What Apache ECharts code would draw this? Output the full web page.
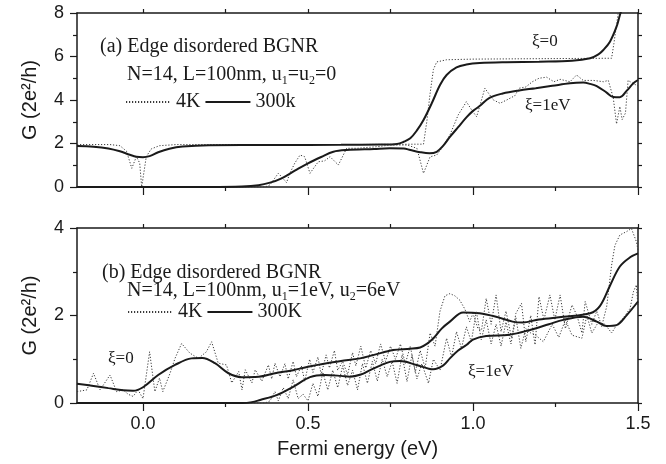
<!DOCTYPE html>
<html>
<head>
<meta charset="utf-8">
<script src="https://cdn.jsdelivr.net/npm/echarts@6/dist/echarts.min.js"></script>
<style>
  html, body { margin: 0; padding: 0; background: #fff; }
  #chart { width: 666px; height: 464px; }
</style>
</head>
<body>
<div id="chart"></div>
<script>
// x axis tick values (eV)
var xMajorTicks = [0, 0.5, 1.0, 1.5];
var xMinorTicks = [0.25, 0.75, 1.25];
var xAllTicks = [0, 0.25, 0.5, 0.75, 1.0, 1.25, 1.5];

// (a) xi = 0, 4K (dotted)
var aXi0ColdE = [-0.2, -0.1, -0.07, -0.05, -0.034, -0.02, -0.01, -0.004, 0.01, 0.025, 0.05, 0.1, 0.3, 0.6, 0.85, 0.86, 0.87, 0.88, 0.89, 0.92, 1.0, 1.2, 1.42, 1.427, 1.44, 1.45];
var aXi0ColdG = [1.95, 1.95, 1.9, 1.65, 0.86, 1.4, 1.1, 0.0, 1.4, 1.75, 1.9, 1.95, 1.95, 1.95, 1.97, 3.0, 4.3, 5.4, 5.75, 5.85, 5.88, 5.9, 5.92, 6.6, 8.0, 8.6];

// (a) xi = 0, 300K (solid)
var aXi0WarmE = [-0.2, -0.15, -0.105, -0.07, -0.04, -0.02, 0.0, 0.02, 0.046, 0.08, 0.12, 0.2, 0.4, 0.6, 0.72, 0.77, 0.79, 0.81, 0.83, 0.85, 0.875, 0.9, 0.92, 0.95, 0.98, 1.02, 1.1, 1.2, 1.3, 1.355, 1.38, 1.395, 1.415, 1.435, 1.445, 1.46];
var aXi0WarmG = [1.88, 1.85, 1.77, 1.64, 1.48, 1.39, 1.37, 1.42, 1.6, 1.76, 1.86, 1.92, 1.93, 1.94, 1.95, 1.98, 2.08, 2.24, 2.6, 3.08, 3.85, 4.69, 5.15, 5.5, 5.63, 5.7, 5.74, 5.76, 5.8, 5.92, 6.1, 6.3, 6.68, 7.37, 7.9, 8.6];

// (a) xi = 1 eV, 4K (dotted)
var aXi1ColdE = [-0.2, 0.37, 0.385, 0.41, 0.42, 0.435, 0.445, 0.46, 0.476, 0.49, 0.506, 0.531, 0.55, 0.567, 0.592, 0.617, 0.65, 0.68, 0.708, 0.748, 0.8, 0.83, 0.85, 0.87, 0.89, 0.905, 0.93, 0.955, 0.98, 0.996, 1.011, 1.036, 1.062, 1.082, 1.102, 1.127, 1.14, 1.16, 1.18, 1.2, 1.223, 1.245, 1.264, 1.294, 1.314, 1.334, 1.365, 1.395, 1.41, 1.425, 1.435, 1.445, 1.452, 1.462, 1.47, 1.486, 1.5];
var aXi1ColdG = [0, 0, 0.1, 0.63, 0.47, 0.2, 0.63, 1.1, 1.47, 1.39, 0.63, 1.16, 1.2, 1.39, 1.01, 1.78, 1.78, 1.82, 1.85, 1.93, 1.93, 1.78, 0.63, 1.39, 1.47, 1.78, 2.39, 3.31, 3.92, 3.54, 3.23, 4.54, 4.0, 3.85, 4.0, 4.2, 4.54, 4.6, 4.84, 5.0, 5.05, 4.84, 4.95, 4.84, 5.15, 4.9, 4.9, 4.84, 4.9, 4.1, 2.9, 3.7, 3.1, 3.4, 4.9, 4.75, 4.65];

// (a) xi = 1 eV, 300K (solid)
var aXi1WarmE = [-0.2, 0.2, 0.3, 0.35, 0.385, 0.42, 0.46, 0.5, 0.54, 0.577, 0.617, 0.7, 0.748, 0.79, 0.81, 0.84, 0.868, 0.89, 0.91, 0.93, 0.955, 0.98, 1.0, 1.02, 1.05, 1.09, 1.14, 1.19, 1.24, 1.294, 1.334, 1.355, 1.375, 1.405, 1.425, 1.445, 1.466, 1.486, 1.5];
var aXi1WarmG = [0, 0, 0.02, 0.08, 0.2, 0.4, 0.75, 1.09, 1.38, 1.62, 1.7, 1.75, 1.78, 1.77, 1.7, 1.6, 1.55, 1.62, 1.9, 2.3, 2.75, 3.2, 3.5, 3.72, 4.1, 4.3, 4.44, 4.54, 4.65, 4.77, 4.8, 4.74, 4.64, 4.34, 4.14, 4.13, 4.43, 4.77, 4.92];

// (b) xi = 0, 4K (dotted)
var bXi0ColdE = [-0.2, -0.17, -0.15, -0.13, -0.1, -0.08, -0.06, -0.045, -0.03, -0.015, 0.0, 0.02, 0.036, 0.05, 0.06, 0.082, 0.097, 0.117, 0.142, 0.168, 0.192, 0.208, 0.228, 0.253, 0.269, 0.29, 0.3, 0.31, 0.33, 0.34, 0.36, 0.38, 0.39, 0.4, 0.415, 0.43, 0.44, 0.455, 0.465, 0.48, 0.49, 0.505, 0.515, 0.53, 0.54, 0.555, 0.565, 0.58, 0.59, 0.605, 0.62, 0.635, 0.645, 0.66, 0.675, 0.69, 0.705, 0.72, 0.735, 0.75, 0.765, 0.78, 0.795, 0.81, 0.825, 0.84, 0.855, 0.87, 0.885, 0.9, 0.915, 0.93, 0.945, 0.96, 0.975, 0.99, 1.0, 1.015, 1.026, 1.04, 1.055, 1.07, 1.085, 1.1, 1.117, 1.13, 1.147, 1.16, 1.175, 1.188, 1.2, 1.215, 1.233, 1.248, 1.264, 1.28, 1.3, 1.315, 1.33, 1.34, 1.36, 1.375, 1.39, 1.405, 1.42, 1.43, 1.445, 1.466, 1.48, 1.495, 1.5];
var bXi0ColdG = [0.26, 0.3, 0.68, 0.3, 0.64, 0.26, 0.3, 0.2, 0.15, 0.3, 0.1, 1.17, 0.26, 0.57, 0.26, 0.68, 1.02, 1.36, 1.14, 1.02, 1.17, 1.4, 0.91, 0.87, 0.46, 0.72, 0.3, 0.76, 0.46, 0.76, 0.5, 0.87, 0.55, 0.91, 0.6, 0.9, 0.55, 0.95, 0.6, 0.85, 0.5, 1.0, 0.7, 1.05, 0.65, 1.1, 0.8, 1.2, 0.75, 0.95, 0.65, 1.15, 0.85, 1.3, 0.8, 1.2, 0.9, 1.35, 0.95, 1.3, 1.0, 1.35, 0.9, 1.3, 0.7, 1.2, 0.8, 1.6, 1.3, 2.1, 2.45, 2.5, 2.45, 2.35, 2.15, 1.86, 2.05, 1.7, 1.67, 2.39, 1.8, 2.47, 1.63, 2.1, 1.48, 2.05, 2.28, 1.4, 2.0, 1.33, 2.43, 1.9, 2.47, 1.9, 2.47, 1.7, 2.24, 2.0, 1.6, 2.32, 1.8, 2.1, 1.75, 2.2, 3.15, 3.6, 3.84, 3.92, 3.99, 3.69, 3.5];

// (b) xi = 0, 300K (solid)
var bXi0WarmE = [-0.2, -0.15, -0.105, -0.06, -0.03, 0.0, 0.046, 0.097, 0.147, 0.18, 0.218, 0.259, 0.299, 0.35, 0.4, 0.455, 0.5, 0.557, 0.6, 0.658, 0.7, 0.758, 0.809, 0.84, 0.86, 0.88, 0.905, 0.93, 0.97, 1.02, 1.07, 1.12, 1.15, 1.2, 1.274, 1.355, 1.385, 1.415, 1.445, 1.476, 1.5];
var bXi0WarmG = [0.44, 0.39, 0.34, 0.29, 0.28, 0.36, 0.64, 0.87, 1.02, 1.03, 0.91, 0.68, 0.59, 0.6, 0.68, 0.75, 0.83, 0.91, 0.96, 1.02, 1.1, 1.21, 1.24, 1.27, 1.35, 1.48, 1.7, 1.86, 2.07, 2.05, 1.97, 1.86, 1.84, 1.91, 1.97, 2.05, 2.22, 2.68, 3.12, 3.33, 3.42];

// (b) xi = 1 eV, 4K (dotted)
var bXi1ColdE = [-0.2, 0.37, 0.385, 0.4, 0.41, 0.425, 0.44, 0.455, 0.47, 0.485, 0.5, 0.515, 0.53, 0.545, 0.56, 0.575, 0.59, 0.605, 0.62, 0.635, 0.65, 0.665, 0.68, 0.695, 0.71, 0.725, 0.74, 0.755, 0.77, 0.785, 0.8, 0.815, 0.83, 0.845, 0.865, 0.88, 0.9, 0.92, 0.935, 0.95, 0.965, 0.98, 0.995, 1.01, 1.025, 1.04, 1.055, 1.07, 1.085, 1.1, 1.115, 1.13, 1.145, 1.16, 1.175, 1.19, 1.213, 1.24, 1.26, 1.28, 1.3, 1.33, 1.345, 1.36, 1.38, 1.4, 1.42, 1.435, 1.455, 1.476, 1.486, 1.495, 1.5];
var bXi1ColdG = [0, 0, 0.05, 0.26, 0.05, 0.35, 0.1, 0.53, 0.1, 0.2, 0.05, 0.45, 0.15, 0.7, 0.3, 0.75, 0.35, 0.85, 0.4, 0.75, 0.3, 0.9, 0.45, 0.95, 0.5, 1.0, 0.6, 0.95, 0.45, 1.1, 0.49, 1.1, 0.55, 0.9, 0.45, 1.0, 0.75, 1.48, 1.05, 1.63, 1.25, 1.74, 1.4, 2.1, 1.45, 1.9, 1.35, 1.8, 1.3, 1.85, 1.35, 1.95, 1.25, 1.7, 1.6, 1.55, 1.4, 1.8, 1.5, 1.9, 1.55, 1.48, 2.0, 1.6, 1.85, 1.8, 1.6, 1.78, 1.94, 2.16, 2.54, 2.7, 2.2];

// (b) xi = 1 eV, 300K (solid)
var bXi1WarmE = [-0.2, 0.3, 0.33, 0.355, 0.405, 0.455, 0.506, 0.55, 0.6, 0.627, 0.66, 0.688, 0.72, 0.748, 0.779, 0.829, 0.88, 0.91, 0.93, 0.955, 0.981, 1.0, 1.04, 1.11, 1.173, 1.23, 1.274, 1.334, 1.375, 1.405, 1.435, 1.466, 1.5];
var bXi1WarmG = [0, 0, 0.02, 0.07, 0.18, 0.37, 0.59, 0.64, 0.62, 0.6, 0.65, 0.75, 0.86, 0.94, 0.96, 0.87, 0.77, 0.86, 1.02, 1.2, 1.33, 1.45, 1.53, 1.56, 1.67, 1.8, 1.9, 1.97, 1.86, 1.76, 1.78, 2.01, 2.32];

function pairs(xs, ys) {
    return xs.map(function(x, i) { return [x, ys[i]]; });
}

var chart = echarts.init(document.getElementById('chart'), null, { renderer: 'canvas' });

var sans = 'Liberation Sans';
var serif = 'Liberation Serif';
var ink = '#1a1a1a';
var dotColor = '#3a3a3a';

var grids = [
    { left: 77, top: 13, width: 561, height: 174 },
    { left: 77, top: 228, width: 561, height: 175 }
];

function xAxes(gridIndex, withLabels) {
    return [
        {
            type: 'value', gridIndex: gridIndex, min: -0.2, max: 1.5, position: 'bottom',
            axisLine: { show: true, onZero: false, lineStyle: { color: ink, width: 1.5 } },
            axisTick: { show: true, inside: false, length: 8, customValues: xMajorTicks, lineStyle: { color: ink, width: 1.2 } },
            axisLabel: {
                show: withLabels, customValues: xMajorTicks, margin: 12,
                fontFamily: sans, fontSize: 18, color: ink,
                formatter: function(v) { return v.toFixed(1); }
            },
            splitLine: { show: false },
            name: withLabels ? 'Fermi energy (eV)' : '',
            nameLocation: 'middle', nameGap: 36,
            nameTextStyle: { fontFamily: sans, fontSize: 20, color: ink }
        },
        {
            type: 'value', gridIndex: gridIndex, min: -0.2, max: 1.5, position: 'bottom',
            axisLine: { show: false, onZero: false },
            axisTick: { show: true, length: 4, customValues: xMinorTicks, lineStyle: { color: ink, width: 1.2 } },
            axisLabel: { show: false },
            splitLine: { show: false }
        },
        {
            type: 'value', gridIndex: gridIndex, min: -0.2, max: 1.5, position: 'top',
            axisLine: { show: true, onZero: false, lineStyle: { color: ink, width: 1.5 } },
            axisTick: { show: true, length: 4, customValues: xAllTicks, lineStyle: { color: ink, width: 1.2 } },
            axisLabel: { show: false },
            splitLine: { show: false }
        }
    ];
}

function yAxes(gridIndex, maxVal) {
    return [
        {
            type: 'value', gridIndex: gridIndex, min: 0, max: maxVal, interval: 2, position: 'left',
            axisLine: { show: true, onZero: false, lineStyle: { color: ink, width: 1.5 } },
            axisTick: { show: true, length: 7, lineStyle: { color: ink, width: 1.2 } },
            minorTick: { show: true, splitNumber: 2, length: 4, lineStyle: { color: ink, width: 1.2 } },
            axisLabel: { margin: 13, fontFamily: sans, fontSize: 18, color: ink },
            splitLine: { show: false },
            name: 'G (2e²/h)', nameLocation: 'middle', nameGap: 37,
            nameTextStyle: { fontFamily: sans, fontSize: 20, color: ink }
        },
        {
            type: 'value', gridIndex: gridIndex, min: 0, max: maxVal, interval: 1, position: 'right',
            axisLine: { show: true, onZero: false, lineStyle: { color: ink, width: 1.5 } },
            axisTick: { show: true, length: 4, lineStyle: { color: ink, width: 1.2 } },
            axisLabel: { show: false },
            splitLine: { show: false }
        }
    ];
}

function dotted(name, xi, yi, xs, ys) {
    return {
        name: name, type: 'line', xAxisIndex: xi, yAxisIndex: yi,
        data: pairs(xs, ys), showSymbol: false, symbol: 'none',
        lineStyle: { color: dotColor, width: 1, type: [1.2, 1.8] },
        itemStyle: { color: dotColor }
    };
}

function solid(name, xi, yi, xs, ys) {
    return {
        name: name, type: 'line', xAxisIndex: xi, yAxisIndex: yi,
        data: pairs(xs, ys), showSymbol: false, symbol: 'none', smooth: 0.35,
        lineStyle: { color: ink, width: 2 },
        itemStyle: { color: ink }
    };
}

var subRich = {
    s: { fontFamily: serif, fontSize: 12, fill: ink, padding: [12, 0, 0, 0] }
};

function label(left, top, text, size) {
    return {
        type: 'text', left: left, top: top,
        style: { text: text, font: size + 'px "Liberation Serif"', fill: ink, rich: subRich }
    };
}

var legendBase = {
    itemWidth: 45, itemHeight: 14, itemGap: 4,
    itemStyle: { opacity: 0 },
    textStyle: { fontFamily: serif, fontSize: 20, color: ink }
};

var option = {
    animation: false,
    backgroundColor: '#fff',
    grid: grids,
    xAxis: xAxes(0, false).concat(xAxes(1, true)),
    yAxis: yAxes(0, 8).concat(yAxes(1, 4)),
    legend: [
        Object.assign({ data: ['4K', '300k'], left: 120, top: 87 }, legendBase),
        Object.assign({ data: ['4K', '300K'], left: 122, top: 297 }, legendBase)
    ],
    series: [
        dotted('4K', 0, 0, aXi0ColdE, aXi0ColdG),
        solid('300k', 0, 0, aXi0WarmE, aXi0WarmG),
        dotted('4K', 0, 0, aXi1ColdE, aXi1ColdG),
        solid('300k', 0, 0, aXi1WarmE, aXi1WarmG),
        dotted('4K', 3, 2, bXi0ColdE, bXi0ColdG),
        solid('300K', 3, 2, bXi0WarmE, bXi0WarmG),
        dotted('4K', 3, 2, bXi1ColdE, bXi1ColdG),
        solid('300K', 3, 2, bXi1WarmE, bXi1WarmG)
    ],
    graphic: [
        label(100, 37, '(a) Edge disordered BGNR', 20),
        label(127, 65, 'N=14, L=100nm, u{s|1}=u{s|2}=0', 20),
        label(532, 33, 'ξ=0', 17),
        label(525, 97, 'ξ=1eV', 17),
        label(102, 263, '(b) Edge disordered BGNR', 20),
        label(127, 281, 'N=14, L=100nm, u{s|1}=1eV, u{s|2}=6eV', 20),
        label(108, 350, 'ξ=0', 17),
        label(468, 363, 'ξ=1eV', 17)
    ]
};

chart.setOption(option);
</script>
</body>
</html>
